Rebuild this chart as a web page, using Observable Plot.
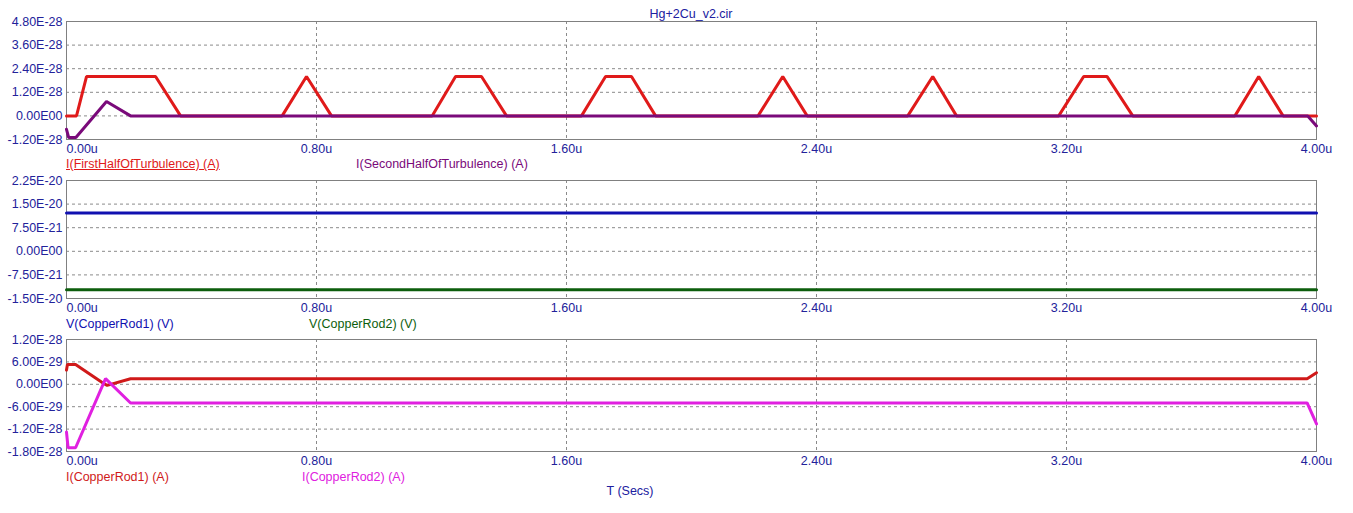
<!DOCTYPE html>
<html>
<head>
<meta charset="utf-8">
<script src="https://cdn.jsdelivr.net/npm/d3@7"></script>
<script src="https://cdn.jsdelivr.net/npm/@observablehq/plot@0.6"></script>
<style>
  html, body { margin: 0; padding: 0; background: #ffffff; }
  #wrap { position: relative; width: 1353px; height: 513px; background: #ffffff; overflow: hidden;
          font-family: "Liberation Sans", Arial, sans-serif; font-size: 12.5px; }
  .lbl { position: absolute; line-height: 1; white-space: nowrap; }
  .pnl { position: absolute; left: 0; }
</style>
</head>
<body>
<div id="wrap"></div>
<script>
// ---------- data ----------
const title = "Hg+2Cu_v2.cir";
const xTicks = [0, 0.8, 1.6, 2.4, 3.2, 4.0]; // microseconds
const xLabel = "T (Secs)";

// Panel 1
const yTicks1 = [-1.2e-28, 0, 1.2e-28, 2.4e-28, 3.6e-28, 4.8e-28];
const firstHalfName = "I(FirstHalfOfTurbulence) (A)";
const firstHalfT = [0, 0.032, 0.064, 0.285, 0.365, 0.690, 0.768, 0.848, 1.170, 1.245, 1.328, 1.408,
                    1.648, 1.725, 1.808, 1.885, 2.213, 2.292, 2.370, 2.692, 2.772, 2.848,
                    3.175, 3.255, 3.330, 3.412, 3.739, 3.815, 3.893, 4.0];
const firstHalfV = [0, 0, 2e-28, 2e-28, 0, 0, 2e-28, 0, 0, 2e-28, 2e-28, 0,
                    0, 2e-28, 2e-28, 0, 0, 2e-28, 0, 0, 2e-28, 0,
                    0, 2e-28, 2e-28, 0, 0, 2e-28, 0, 0];
const secondHalfName = "I(SecondHalfOfTurbulence) (A)";
const secondHalfT = [0, 0.007, 0.030, 0.128, 0.205, 3.972, 4.0];
const secondHalfV = [-0.68e-28, -1.10e-28, -1.10e-28, 0.73e-28, 0, 0, -0.51e-28];

// Panel 2
const yTicks2 = [-1.5e-20, -7.5e-21, 0, 7.5e-21, 1.5e-20, 2.25e-20];
const vRod1Name = "V(CopperRod1) (V)";
const vRod1T = [0, 4.0];
const vRod1V = [1.22e-20, 1.22e-20];
const vRod2Name = "V(CopperRod2) (V)";
const vRod2T = [0, 4.0];
const vRod2V = [-1.22e-20, -1.22e-20];

// Panel 3
const yTicks3 = [-1.8e-28, -1.2e-28, -6e-29, 0, 6e-29, 1.2e-28];
const iRod1Name = "I(CopperRod1) (A)";
const iRod1T = [0, 0.003, 0.029, 0.119, 0.130, 0.205, 3.970, 4.0];
const iRod1V = [3.8e-29, 5.3e-29, 5.3e-29, 0.2e-29, -0.3e-29, 1.5e-29, 1.5e-29, 3.1e-29];
const iRod2Name = "I(CopperRod2) (A)";
const iRod2T = [0, 0.005, 0.029, 0.125, 0.205, 3.970, 4.0];
const iRod2V = [-12.8e-29, -17.0e-29, -17.0e-29, 1.5e-29, -5.0e-29, -5.0e-29, -10.6e-29];

// ---------- styling ----------
const tickColor = "#22229a";
const colFirst = "#e01a1a", colSecond = "#7a0a7a";
const colV1 = "#1010b0", colV2 = "#0d5e0d";
const colI1 = "#d01a1a", colI2 = "#e020e0";
const W = 1353;

function eng(v) {
  if (Math.abs(v) < 1e-40) return "0.00E00";
  let e = Math.floor(Math.log10(Math.abs(v)) + 1e-9);
  let m = v / Math.pow(10, e);
  if (Math.abs(m) >= 9.995) { m /= 10; e += 1; }
  return m.toFixed(2) + "E" + (e < 0 ? "-" : "") + String(Math.abs(e)).padStart(2, "0");
}
const fmtU = d => d.toFixed(2) + "u";
const rows = (t, v) => t.map((x, i) => ({t: x, v: v[i]}));

function panel({height, mt, mb, yTicks, series}) {
  const grid = {stroke: "#8a8a8a", strokeOpacity: 1, strokeDasharray: "3,3", strokeWidth: 1};
  return Plot.plot({
    width: W, height,
    marginTop: mt, marginBottom: mb, marginLeft: 66, marginRight: 37,
    x: {domain: [xTicks[0], xTicks[xTicks.length - 1]], label: null},
    y: {domain: [yTicks[0], yTicks[yTicks.length - 1]], label: null},
    style: {fontFamily: '"Liberation Sans", Arial, sans-serif', fontSize: "12.5px",
            color: tickColor, background: "transparent", overflow: "visible"},
    marks: [
      Plot.gridX(xTicks.slice(1, -1), grid),
      Plot.gridY(yTicks.slice(1, -1), grid),
      Plot.frame({stroke: "#808080", strokeWidth: 1}),
      ...series.map(s => Plot.line(rows(s.t, s.v), {x: "t", y: "v", stroke: s.color, strokeWidth: 3, strokeLinejoin: "miter"})),
      Plot.axisY(yTicks, {tickSize: 0, tickPadding: 4, tickFormat: eng, label: null}),
      Plot.axisX(xTicks.slice(0, 1), {tickSize: 0, tickPadding: 5, tickFormat: fmtU, textAnchor: "start", label: null}),
      Plot.axisX(xTicks.slice(1), {tickSize: 0, tickPadding: 5, tickFormat: fmtU, label: null})
    ]
  });
}

const wrap = document.getElementById("wrap");
function place(node, top) {
  node.classList.add("pnl");
  node.style.top = top + "px";
  wrap.appendChild(node);
}
function label(text, left, top, color, opts = {}) {
  const d = document.createElement("div");
  d.className = "lbl";
  d.textContent = text;
  d.style.left = left + "px";
  d.style.top = top + "px";
  d.style.color = color;
  if (opts.center) d.style.transform = "translateX(-50%)";
  if (opts.underline) d.style.textDecoration = "underline";
  wrap.appendChild(d);
}

place(panel({height: 160, mt: 21, mb: 21, yTicks: yTicks1, series: [
  {t: firstHalfT, v: firstHalfV, color: colFirst},
  {t: secondHalfT, v: secondHalfV, color: colSecond}
]}), 0);
place(panel({height: 160, mt: 20, mb: 22, yTicks: yTicks2, series: [
  {t: vRod1T, v: vRod1V, color: colV1},
  {t: vRod2T, v: vRod2V, color: colV2}
]}), 160);
place(panel({height: 150, mt: 19, mb: 19, yTicks: yTicks3, series: [
  {t: iRod1T, v: iRod1V, color: colI1},
  {t: iRod2T, v: iRod2V, color: colI2}
]}), 320);

label(title, 691, 7.5, "#2020a0", {center: true});
label(firstHalfName, 66, 158, colFirst, {underline: true});
label(secondHalfName, 356, 158, colSecond);
label(vRod1Name, 66, 318, colV1);
label(vRod2Name, 309, 318, colV2);
label(iRod1Name, 66, 471, colI1);
label(iRod2Name, 302, 471, colI2);
label(xLabel, 630, 484.5, "#2020a0", {center: true});
</script>
</body>
</html>
